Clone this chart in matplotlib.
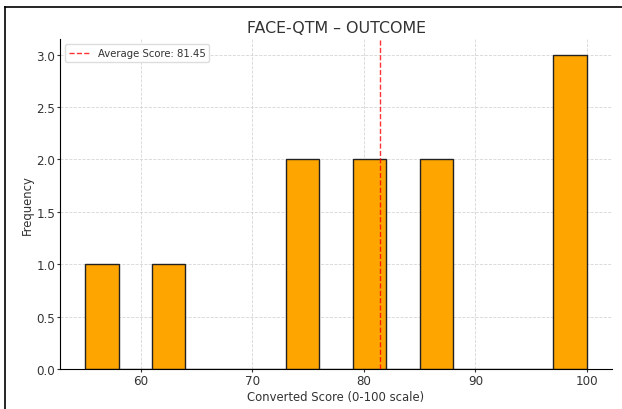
import matplotlib.pyplot as plt
from matplotlib.lines import Line2D

# histogram bin edges and counts
bin_edges = [55, 58, 61, 64, 67, 70, 73, 76, 79, 82, 85, 88, 91, 94, 97, 100]
counts = [1, 0, 1, 0, 0, 0, 2, 0, 2, 0, 2, 0, 0, 0, 3]
average_score = 81.45

plt.rcParams['text.color'] = '#333333'
plt.rcParams['axes.labelcolor'] = '#333333'
plt.rcParams['xtick.color'] = '#333333'
plt.rcParams['ytick.color'] = '#333333'

fig = plt.figure(figsize=(6.22, 4.10), dpi=100)
ax = fig.add_axes([0.0965, 0.0976, 0.8875, 0.8048])

ax.hist(bin_edges[:-1], bins=bin_edges, weights=counts,
        color='orange', edgecolor='#222222', linewidth=1, zorder=2)
ax.axvline(average_score, color='red', linestyle='--', linewidth=1, alpha=0.8,
           label=f'Average Score: {average_score:.2f}', zorder=3)

ax.set_title('FACE-QTM – OUTCOME', fontsize=11.4, pad=5)
ax.set_xlabel('Converted Score (0-100 scale)', fontsize=8.4, labelpad=2.5)
ax.set_ylabel('Frequency', fontsize=8.4, labelpad=1.5)
ax.tick_params(labelsize=8.6, length=2, pad=1.5)
ax.grid(True, linestyle='--', color='#cccccc', linewidth=0.6, alpha=0.8, zorder=0)
ax.set_axisbelow(True)
for s in ['top', 'right']:
    ax.spines[s].set_visible(False)
ax.legend(loc='upper left', fontsize=7.3, framealpha=1, edgecolor='#dddddd')

# screenshot frame edges
fig.add_artist(Line2D([5/622, 1], [1 - 8/410, 1 - 8/410], color='black', linewidth=1.2, transform=fig.transFigure))
fig.add_artist(Line2D([5/622, 5/622], [0, 1 - 8/410], color='black', linewidth=1.2, transform=fig.transFigure))

fig.savefig('out.png', dpi=100)
